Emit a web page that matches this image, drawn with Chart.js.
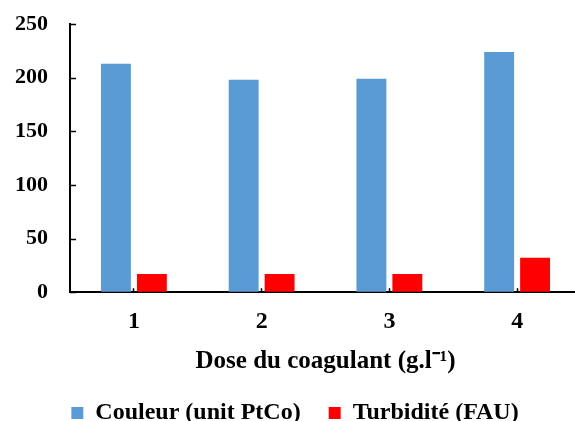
<!DOCTYPE html>
<html>
<head>
<meta charset="utf-8">
<script src="https://cdn.jsdelivr.net/npm/chart.js@4.4.1/dist/chart.umd.min.js"></script>
<style>
  html, body { margin: 0; padding: 0; overflow: hidden; background: #fff; }
  #wrap { position: relative; width: 600px; height: 421px; }
</style>
</head>
<body>
<div id="wrap"><canvas id="c"></canvas></div>
<script>
// Coagulant dose and measured water quality
const doses = ['1', '2', '3', '4'];
const couleur = [213, 198, 199, 224];     // unit PtCo
const turbidite = [17, 17, 17, 32];       // FAU
const yTicks = [0, 50, 100, 150, 200, 250];

const serif = "'Liberation Serif', 'Times New Roman', serif";

// Short tick marks pointing into the plot from the value axis
const innerTicks = {
  id: 'innerTicks',
  afterDatasetsDraw(chart) {
    const y = chart.scales.y;
    const left = chart.chartArea.left;
    const ctx = chart.ctx;
    ctx.save();
    ctx.strokeStyle = '#000';
    ctx.lineWidth = 1.5;
    y.ticks.forEach(t => {
      const py = Math.round(y.getPixelForValue(t.value)) + 0.5;
      ctx.beginPath();
      ctx.moveTo(left, py);
      ctx.lineTo(left + 6, py);
      ctx.stroke();
    });
    ctx.restore();
  }
};

new Chart(document.getElementById('c'), {
  type: 'bar',
  data: {
    labels: doses,
    datasets: [
      { label: 'Couleur (unit PtCo)', data: couleur, backgroundColor: '#5B9BD5', borderWidth: 0 },
      { label: 'Turbidité (FAU)', data: turbidite, backgroundColor: '#FF0000', borderWidth: 0 }
    ]
  },
  plugins: [innerTicks],
  options: {
    responsive: true,
    maintainAspectRatio: false,
    animation: false,
    devicePixelRatio: 1,
    categoryPercentage: 0.5625,
    barPercentage: 0.833,
    layout: { padding: { top: 24, right: 19, left: 9, bottom: -14 } },
    plugins: {
      tooltip: { enabled: false },
      legend: {
        position: 'bottom',
        labels: {
          boxWidth: 12,
          boxHeight: 12,
          padding: 28,
          color: '#000',
          font: { family: serif, size: 24, weight: 'bold' }
        }
      }
    },
    scales: {
      x: {
        grid: {
          display: true,
          drawOnChartArea: false,
          offset: false,
          tickLength: -4,
          tickColor: '#000',
          tickWidth: 1.5
        },
        border: { color: '#000', width: 2 },
        ticks: {
          color: '#000',
          padding: 19,
          font: { family: serif, size: 24, weight: 'bold' }
        },
        title: {
          display: true,
          text: 'Dose du coagulant (g.l⁻¹)',
          color: '#000',
          padding: { top: -8, bottom: -4 },
          font: { family: serif, size: 25, weight: 'bold' }
        }
      },
      y: {
        min: 0,
        max: 250,
        afterBuildTicks: (scale) => { scale.ticks = yTicks.map(v => ({ value: v })); },
        grid: {
          display: true,
          drawOnChartArea: false,
          tickLength: 16,
          tickColor: 'rgba(0,0,0,0)'
        },
        border: { color: '#000', width: 2 },
        ticks: {
          color: '#000',
          padding: 6,
          font: { family: serif, size: 22, weight: 'bold' }
        }
      }
    }
  }
});
</script>
</body>
</html>
